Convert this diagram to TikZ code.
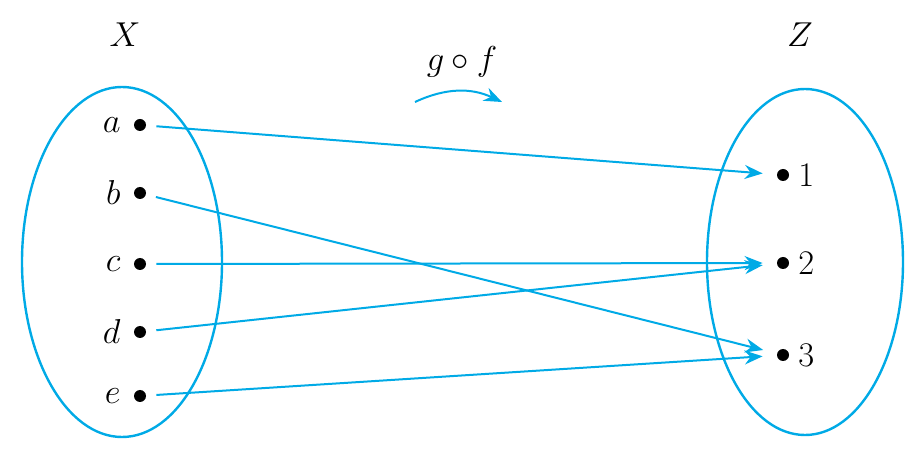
\documentclass[tikz,border=0pt]{standalone}
\usepackage{amsmath}
\usepackage{xcolor}
\usetikzlibrary{arrows.meta}
\definecolor{mapblue}{RGB}{0,170,230}
\begin{document}
\begin{tikzpicture}[x=0.5pt,y=-0.5pt,font=\fontsize{19}{22}\selectfont]
\useasboundingbox (0,0) rectangle (911,454);

% sets
\draw[mapblue, line width=1.2pt] (122,262) ellipse [x radius=100, y radius=175];
\draw[mapblue, line width=1.2pt] (805,262) ellipse [x radius=98, y radius=173];
\node (X) at (125,35) {$X$};
\node (Z) at (800,35) {$Z$};

% nodes
\node[shape=circle,fill=black,inner sep=0pt,minimum size=6pt,label={[xshift=-3pt]left:$a$}] (a) at (140,125) {};
\node[shape=circle,fill=black,inner sep=0pt,minimum size=6pt,label={[xshift=-3pt]left:$b$}] (b) at (140,193) {};
\node[shape=circle,fill=black,inner sep=0pt,minimum size=6pt,label={[xshift=-3pt]left:$c$}] (c) at (140,264) {};
\node[shape=circle,fill=black,inner sep=0pt,minimum size=6pt,label={[xshift=-3pt]left:$d$}] (d) at (140,332) {};
\node[shape=circle,fill=black,inner sep=0pt,minimum size=6pt,label={[xshift=-3pt]left:$e$}] (e) at (140,396) {};

\node[shape=circle,fill=black,inner sep=0pt,minimum size=6pt,label={[xshift=1pt]right:$1$}] (z1) at (783,175) {};
\node[shape=circle,fill=black,inner sep=0pt,minimum size=6pt,label={[xshift=1pt]right:$2$}] (z2) at (783,263) {};
\node[shape=circle,fill=black,inner sep=0pt,minimum size=6pt,label={[xshift=1pt]right:$3$}] (z3) at (783,355) {};

%% arrows
\path[-{Stealth[length=9pt,width=7pt]}, line width=1pt, mapblue, shorten <=5pt, shorten >=7pt] (a) edge (z1);
\path[-{Stealth[length=9pt,width=7pt]}, line width=1pt, mapblue, shorten <=5pt, shorten >=7pt] (b) edge (z3);
\path[-{Stealth[length=9pt,width=7pt]}, line width=1pt, mapblue, shorten <=5pt, shorten >=7pt] (c) edge (z2);
\path[-{Stealth[length=9pt,width=7pt]}, line width=1pt, mapblue, shorten <=5pt, shorten >=7pt] (d) edge (z2);
\path[-{Stealth[length=9pt,width=7pt]}, line width=1pt, mapblue, shorten <=5pt, shorten >=7pt] (e) edge (z3);

%% g o f
\node (gf) at (462,62) {$g\circ f$};
\coordinate (gs) at (415,102);
\coordinate (ge) at (502,102);
\draw[-{Stealth[length=9pt,width=7pt]}, line width=1pt, mapblue] (gs) to[bend left=25] (ge);

\end{tikzpicture}
\end{document}
